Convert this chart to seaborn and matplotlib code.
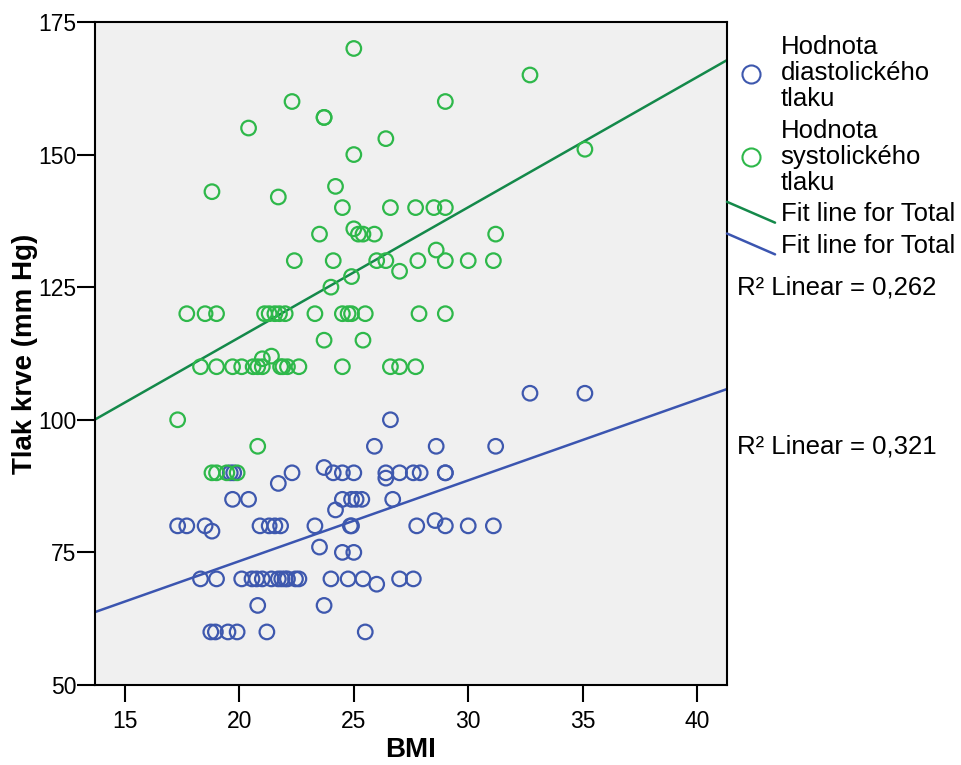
import numpy as np
import pandas as pd
import matplotlib
matplotlib.use("Agg")
import matplotlib.pyplot as plt
import seaborn as sns
from matplotlib.lines import Line2D
from matplotlib.legend_handler import HandlerLine2D

# Hodnoty
sys_bmi = [25.0, 32.7, 22.3, 29.0, 23.7, 23.7, 20.4, 26.4, 35.1, 25.0, 24.2, 18.8, 21.7,
           24.5, 26.6, 27.7, 28.5, 29.0, 23.5, 25.0, 25.2, 25.4, 25.9, 31.2, 28.6,
           22.4, 24.1, 26.0, 26.4, 27.8, 29.0, 30.0, 31.1, 27.0, 24.9, 24.0,
           17.7, 18.5, 19.0, 21.1, 21.3, 21.55, 21.75, 22.0, 23.3, 24.5, 24.75, 24.9, 25.5, 27.85, 29.0,
           23.7, 25.4, 21.0, 21.4,
           18.3, 19.0, 19.7, 20.1, 20.6, 20.8, 21.0, 21.8, 21.9, 22.1, 22.6, 24.5, 26.6, 27.0, 27.7,
           17.3, 20.8, 18.8, 19.0, 19.45, 19.9]
sys_val = [170, 165, 160, 160, 157, 157, 155, 153, 151, 150, 144, 143, 142,
           140, 140, 140, 140, 140, 135, 136, 135, 135, 135, 135, 132,
           130, 130, 130, 130, 130, 130, 130, 130, 128, 127, 125,
           120, 120, 120, 120, 120, 120, 120, 120, 120, 120, 120, 120, 120, 120, 120,
           115, 115, 111.5, 112,
           110, 110, 110, 110, 110, 110, 110, 110, 110, 110, 110, 110, 110, 110, 110,
           100, 95, 90, 90, 90, 90]

dia_bmi = [32.7, 35.1, 26.6, 25.9, 28.6, 31.2,
           19.6, 19.75, 22.3, 23.7, 24.1, 24.5, 25.0, 26.4, 26.4, 27.0, 27.6, 27.9, 29.0, 29.0,
           21.7,
           19.7, 20.4, 24.5, 24.9, 25.1, 25.35, 26.7,
           24.2,
           17.3, 17.7, 18.5, 18.8, 20.9, 21.3, 21.55, 21.8, 23.3, 24.85, 24.9, 27.75, 28.55, 29.0, 30.0, 31.1,
           23.5, 24.5, 25.0,
           18.3, 19.0, 20.1, 20.55, 20.75, 21.0, 21.4, 21.7, 21.85, 22.0, 22.1, 22.45, 22.6, 24.0, 24.75, 25.4,
           26.0, 27.0, 27.6,
           20.8, 23.7,
           18.75, 18.95, 19.5, 19.9, 21.2, 25.5]
dia_val = [105, 105, 100, 95, 95, 95,
           90, 90, 90, 91, 90, 90, 90, 90, 89, 90, 90, 90, 90, 90,
           88,
           85, 85, 85, 85, 85, 85, 85,
           83,
           80, 80, 80, 79, 80, 80, 80, 80, 80, 80, 80, 80, 81, 80, 80, 80,
           76, 75, 75,
           70, 70, 70, 70, 70, 70, 70, 70, 70, 70, 70, 70, 70, 70, 70, 70,
           69, 70, 70,
           65, 65,
           60, 60, 60, 60, 60, 60]

serie_labels = ["Hodnota\ndiastolického\ntlaku", "Hodnota\nsystolického\ntlaku"]
fit_label = "Fit line for Total"
r2_texts = ["R² Linear = 0,262", "R² Linear = 0,321"]
x_ticks = [15, 20, 25, 30, 35, 40]
y_ticks = [50, 75, 100, 125, 150, 175]

blue = "#3e58ae"
green = "#2eb84a"
green_fit = "#14894a"
blue_fit = "#3b55b0"

sns.set_style("ticks")
plt.rcParams["font.family"] = ["Liberation Sans", "DejaVu Sans"]
plt.rcParams["text.color"] = "black"
plt.rcParams["axes.labelcolor"] = "black"
plt.rcParams["xtick.color"] = "black"
plt.rcParams["ytick.color"] = "black"

fig = plt.figure(figsize=(9.62, 7.65), dpi=100)
ax = fig.add_axes([0.0988, 0.1046, 0.6569, 0.8667])
ax.set_facecolor("#f0f0f0")

ax.set_xlim(13.69, 41.31)
ax.set_ylim(50, 175)

sns.scatterplot(x=dia_bmi, y=dia_val, ax=ax, marker="o", s=110,
                facecolor="none", edgecolor=blue, linewidth=1.6, zorder=3)
sns.scatterplot(x=sys_bmi, y=sys_val, ax=ax, marker="o", s=110,
                facecolor="none", edgecolor=green, linewidth=1.6, zorder=3)

sns.regplot(x=sys_bmi, y=sys_val, ax=ax, scatter=False, ci=None, truncate=False,
            color=green_fit, line_kws={"linewidth": 1.8, "zorder": 2})
sns.regplot(x=dia_bmi, y=dia_val, ax=ax, scatter=False, ci=None, truncate=False,
            color=blue_fit, line_kws={"linewidth": 1.8, "zorder": 2})

ax.set_xlim(13.69, 41.31)
ax.set_ylim(50, 175)
ax.set_xticks(x_ticks)
ax.set_yticks(y_ticks)

for side in ["left", "right", "top", "bottom"]:
    ax.spines[side].set_visible(True)
    ax.spines[side].set_linewidth(1.5)
    ax.spines[side].set_color("black")

ax.tick_params(axis="y", direction="out", length=13, width=1.5, pad=0.5, labelsize=16.5,
               colors="black")
ax.tick_params(axis="x", direction="out", length=12, width=1.5, pad=6, labelsize=16.5,
               colors="black")

ax.set_xlabel("BMI", fontsize=20, fontweight="bold", color="black")
ax.set_ylabel("Tlak krve (mm Hg)", fontsize=20, fontweight="bold", color="black")
ax.xaxis.set_label_coords(0.5, -0.078)
ax.yaxis.set_label_coords(-0.09, 0.5)


class DiagonalHandler(HandlerLine2D):
    def __init__(self, drop, **kw):
        super().__init__(**kw)
        self.drop = drop

    def create_artists(self, legend, orig_handle, xdescent, ydescent,
                       width, height, fontsize, trans):
        mid = height / 2 - ydescent
        line = Line2D([-xdescent, -xdescent + width],
                      [mid + self.drop, mid - self.drop])
        line.set_color(orig_handle.get_color())
        line.set_linewidth(orig_handle.get_linewidth())
        line.set_transform(trans)
        return [line]


h_dia = Line2D([], [], linestyle="none", marker="o", markersize=13,
               markerfacecolor="none", markeredgecolor=blue, markeredgewidth=1.5)
h_sys = Line2D([], [], linestyle="none", marker="o", markersize=13,
               markerfacecolor="none", markeredgecolor=green, markeredgewidth=1.5)
h_fit_sys = Line2D([], [], color=green_fit, linewidth=1.8)
h_fit_dia = Line2D([], [], color=blue_fit, linewidth=1.8)

leg = ax.legend(handles=[h_dia, h_sys, h_fit_sys, h_fit_dia],
                labels=[serie_labels[0], serie_labels[1], fit_label, fit_label],
                loc="upper left", bbox_to_anchor=(1.0, 0.98), frameon=False,
                fontsize=18.5, borderaxespad=0, borderpad=0,
                handlelength=1.87, handletextpad=0.22, labelspacing=0.3,
                handler_map={h_fit_sys: DiagonalHandler(7.5),
                             h_fit_dia: DiagonalHandler(7.5)})
for t in leg.get_texts():
    t.set_linespacing(1.1)
    t.set_color("black")

ax.text(1.0158, 0.600, r2_texts[0], transform=ax.transAxes, fontsize=18.5,
        va="center", ha="left", color="black")
ax.text(1.0158, 0.359, r2_texts[1], transform=ax.transAxes, fontsize=18.5,
        va="center", ha="left", color="black")

fig.savefig("out.png", dpi=100)
